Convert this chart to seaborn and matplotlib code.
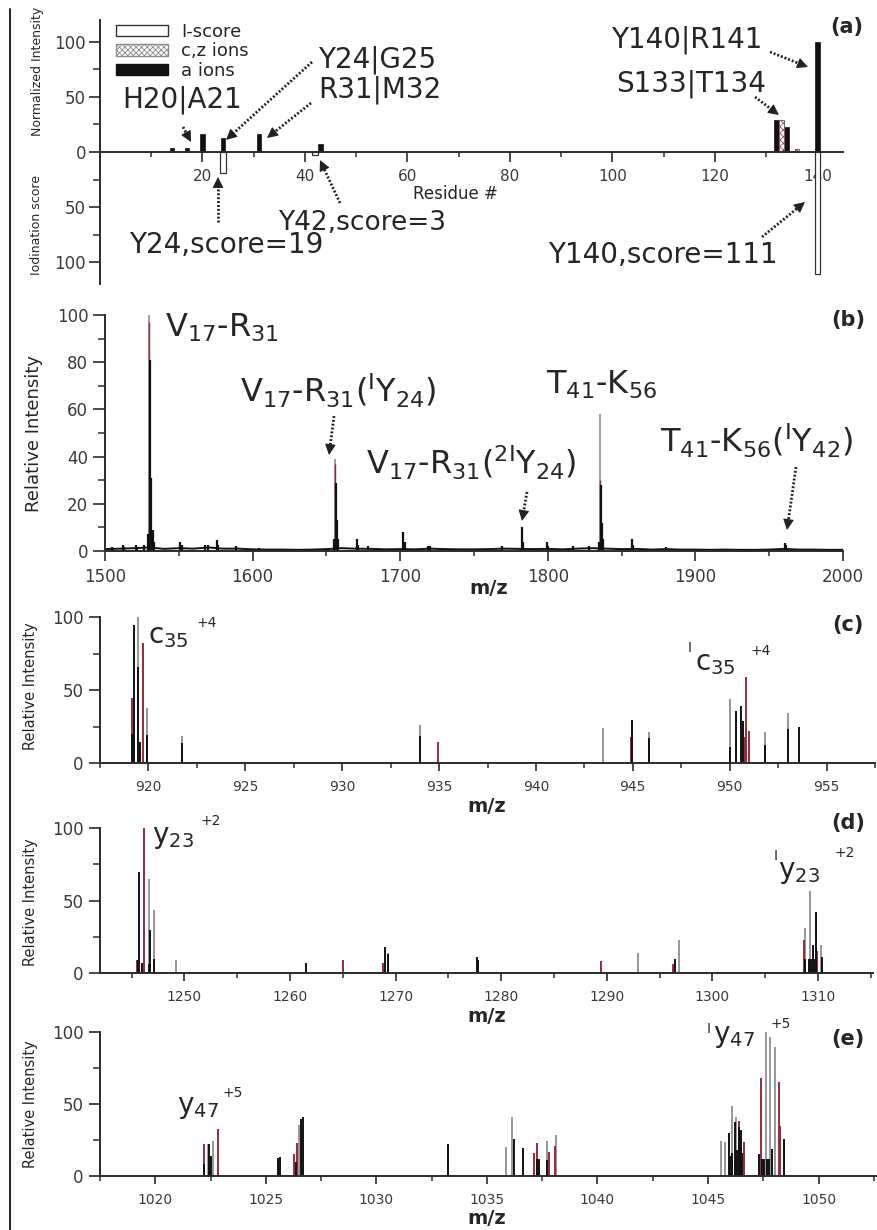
import numpy as np
import matplotlib
matplotlib.use("Agg")
import matplotlib.pyplot as plt
import seaborn as sns
from matplotlib.patches import Patch, FancyArrowPatch
from matplotlib.lines import Line2D
from matplotlib.ticker import MultipleLocator, FixedLocator

# ---------------- data ----------------
# (a) cleavage map
a_ion_res = [14, 17, 20, 24, 31, 43, 132, 134, 140]
a_ion_int = [4, 4, 16, 13, 16, 7, 29, 23, 100]
cz_ion_res = [133, 136]
cz_ion_int = [29, 3]
iscore_res = [24, 42, 140]
iscore_val = [19, 3, 111]
a_yticks = [-100, -50, 0, 50, 100]
a_yticklabels = ["100", "50", "0", "50", "100"]
a_xticks = [20, 40, 60, 80, 100, 120, 140]
legend_labels = ["I-score", "c,z ions", "a ions"]

# (b) MS spectrum
b_base_mz = list(range(1500, 2001, 10))
b_base_int = [0.8, 1.0, 1.2, 1.5, 0.9, 1.2, 1.0, 1.5, 1.0, 1.0,
              0.7, 0.6, 0.6, 0.5, 0.6, 0.8, 1.2, 1.0, 0.9, 0.7,
              0.8, 0.7, 1.0, 0.8, 0.7, 0.7, 0.8, 1.0, 0.9, 0.8,
              0.9, 0.7, 1.0, 1.2, 1.0, 0.8, 0.9, 0.6, 0.8, 0.6,
              0.6, 0.5, 0.6, 0.5, 0.5, 0.6, 0.9, 0.6, 0.6, 0.5, 0.5]
b_black_mz = [1504.5, 1505.5, 1512, 1513, 1521, 1522, 1526.5, 1528.9, 1530.4, 1531.3, 1532.2, 1533.1,
              1551, 1552, 1568, 1570, 1575.7, 1576.7, 1589, 1604, 1654.9, 1656.2, 1657.0, 1657.8,
              1670.5, 1671.5, 1678, 1702, 1703, 1719, 1720, 1768.8, 1782.3, 1783.2, 1799.3, 1800.3,
              1817, 1828, 1834.6, 1835.8, 1836.6, 1837.4, 1856.8, 1857.8, 1880, 1960.7, 1961.7]
b_black_int = [1.8, 1.2, 2.5, 1.8, 2.5, 1.8, 2.5, 7, 81, 31, 9, 4,
               4, 2.5, 2.5, 2.5, 4.5, 2.5, 2, 1.2, 5, 29, 13, 5,
               5, 2.5, 2, 8, 4, 2, 2, 2, 10, 4, 4, 2,
               2, 2, 4, 28, 12, 5, 5, 2.5, 1.5, 3.5, 2.5]
b_grey_mz = [1529.7, 1655.6, 1835.2]
b_grey_int = [100, 39, 58]
b_red_mz = [1530.0, 1655.9, 1835.5]
b_red_int = [97, 37, 30]

# (c) MS/MS c35 +4
c_grey_mz = [919.45, 919.93, 921.73, 934.0, 943.47, 945.86, 950.03, 951.8, 952.99]
c_grey_int = [100, 37.6, 18.5, 26, 23.7, 21.5, 43.6, 21.5, 34.5]
c_red_mz = [919.16, 919.7, 934.97, 944.9, 950.78, 950.84, 951.0]
c_red_int = [44.5, 82, 14.6, 18, 18, 59, 21.9]
c_black_mz = [919.16, 919.24, 919.45, 919.55, 919.93, 921.73, 934.0, 944.97, 945.86, 950.03,
              950.32, 950.58, 950.67, 951.8, 952.99, 953.6]
c_black_int = [20, 94.5, 66, 14.6, 19, 14, 18.5, 29.5, 17, 11, 35.8, 39, 29, 12, 23, 25]

# (d) MS/MS y23 +2
d_grey_mz = [1246.6, 1247.16, 1249.2, 1269.3, 1292.9, 1296.8, 1308.8, 1309.25, 1310.3]
d_grey_int = [65, 43.6, 9, 14, 14, 23, 31, 56.6, 19]
d_red_mz = [1245.5, 1246.17, 1264.98, 1268.8, 1289.4, 1296.3, 1308.7, 1309.85]
d_red_int = [9, 100, 9, 7, 8.5, 6.5, 22.8, 15]
d_black_mz = [1245.6, 1245.67, 1245.98, 1246.6, 1246.75, 1247.16, 1261.5, 1268.96, 1269.3, 1277.7,
              1277.8, 1296.45, 1308.8, 1309.1, 1309.3, 1309.5, 1309.6, 1309.8, 1310.4]
d_black_int = [9, 69.5, 7, 6, 30, 9.5, 6.7, 17.7, 13, 11, 9, 9.7, 10, 10, 10, 19, 10, 42, 11]

# (e) MS/MS y47 +5
e_grey_mz = [1022.37, 1022.61, 1026.5, 1035.87, 1036.14, 1037.72, 1038.14, 1045.57, 1045.75, 1046.1,
             1046.25, 1047.63, 1047.8, 1048.02]
e_grey_int = [22, 24, 35.4, 20, 40.8, 24.5, 28.4, 24.5, 23.3, 48.6, 41, 100, 96.7, 89.7]
e_red_mz = [1022.19, 1022.82, 1026.29, 1026.4, 1037.15, 1037.27, 1037.8, 1038.1, 1046.4, 1046.62,
            1047.38, 1048.2, 1048.25]
e_red_int = [22, 32.4, 15.6, 23, 16.3, 22.6, 16.8, 21, 38.4, 23.8, 68, 65.5, 35]
e_black_mz = [1022.2, 1022.44, 1022.5, 1025.55, 1025.62, 1026.35, 1026.6, 1026.66, 1033.24, 1036.22,
              1036.64, 1037.27, 1037.35, 1037.72, 1045.95, 1046.0, 1046.1, 1046.2, 1046.3, 1046.4,
              1046.45, 1046.5, 1046.55, 1047.3, 1047.45, 1047.55, 1047.65, 1047.75, 1047.9, 1048.42]
e_black_int = [8, 22, 14, 12.8, 13.5, 10, 39.4, 41, 22, 25.4, 19.3, 12, 12, 11, 29.7, 14, 16, 37.7,
               18, 34, 20, 32, 16, 15.6, 12, 12, 12, 12, 19, 26]

# ---------------- style ----------------
sns.set_theme(style="ticks")
plt.rcParams["font.family"] = ["DejaVu Sans"]
plt.rcParams["mathtext.default"] = "regular"
plt.rcParams["hatch.linewidth"] = 0.6

W, H = 877, 1230
SPINE = "#2b2b2b"
TXT = "#262626"
LBL = "#3a3a3a"
BLACK = "#111111"
GREY = "#858585"
RED = "#9a2a3a"

fig = plt.figure(figsize=(W / 100, H / 100), dpi=100)
fig.patch.set_facecolor("white")


def rect(l, t, r, b):
    return [l / W, 1 - b / H, (r - l) / W, (b - t) / H]


def ftext(x, y, s, size, **kw):
    kw.setdefault("color", TXT)
    fig.text(x / W, 1 - y / H, s, fontsize=size, **kw)


def arrow(x0, y0, x1, y1):
    # dotted shaft + small solid head
    dx, dy = x1 - x0, y1 - y0
    n = np.hypot(dx, dy)
    ux, uy = dx / n, dy / n
    hx, hy = x1 - 7 * ux, y1 - 7 * uy
    fig.add_artist(Line2D([x0 / W, hx / W], [1 - y0 / H, 1 - hy / H], transform=fig.transFigure,
                          color="#222222", lw=2.0, linestyle=(0, (0.7, 0.7)),
                          dash_capstyle="butt"))
    fig.add_artist(FancyArrowPatch(((hx - 2 * ux) / W, 1 - (hy - 2 * uy) / H), (x1 / W, 1 - y1 / H),
                                   transform=fig.transFigure,
                                   arrowstyle="-|>,head_length=0.6,head_width=0.3",
                                   mutation_scale=11, lw=0.8, color="#222222",
                                   shrinkA=0, shrinkB=0))


def style_axes(ax, xsize, ysize, xmaj, ymaj, xpad=5, ypad=3):
    for s in ("top", "right"):
        ax.spines[s].set_visible(False)
    for s in ("left", "bottom"):
        ax.spines[s].set_color(SPINE)
        ax.spines[s].set_linewidth(1.4)
    ax.set_facecolor("white")
    ax.tick_params(axis="x", which="major", direction="out", length=xmaj, width=1.2,
                   color=SPINE, labelcolor=LBL, labelsize=xsize, pad=xpad)
    ax.tick_params(axis="x", which="minor", direction="out", length=xmaj * 0.55, width=1.1, color=SPINE)
    ax.tick_params(axis="y", which="major", direction="out", length=ymaj, width=1.2,
                   color=SPINE, labelcolor=LBL, labelsize=ysize, pad=ypad)
    ax.tick_params(axis="y", which="minor", direction="out", length=ymaj * 0.6, width=1.1, color=SPINE)
    ax.set_xlabel("")
    ax.set_ylabel("")
    ax.grid(False)


def sticks(ax, mz, inten, color, lw):
    ax.vlines(mz, 0, inten, colors=color, linewidth=lw, clip_on=False)


# ---------------- (a) ----------------
ax_a = fig.add_axes(rect(100, 20, 843, 284))
ax_a.bar(iscore_res, -np.array(iscore_val), width=1.1, color="white", edgecolor="#333333", linewidth=0.9)
ax_a.bar(a_ion_res, a_ion_int, width=0.85, color=BLACK, edgecolor=BLACK, linewidth=0.5)
ax_a.bar(cz_ion_res, cz_ion_int, width=0.9, color="white", edgecolor="#8a5a60", hatch="xxxxx", linewidth=0.8)
ax_a.set_xlim(0, 145)
ax_a.set_ylim(-120, 120)
ax_a.spines["bottom"].set_position(("data", 0))
style_axes(ax_a, 11, 12, 7, 8, xpad=5, ypad=2)
ax_a.xaxis.set_major_locator(FixedLocator(a_xticks))
ax_a.xaxis.set_minor_locator(MultipleLocator(10))
ax_a.set_yticks(a_yticks)
ax_a.set_yticklabels(a_yticklabels)
ax_a.yaxis.set_minor_locator(MultipleLocator(25))

handles = [Patch(facecolor="white", edgecolor="#333333", linewidth=1.0),
           Patch(facecolor="white", edgecolor="#8a8a8a", hatch="xxxxxx", linewidth=1.0),
           Patch(facecolor=BLACK, edgecolor=BLACK)]
fig.legend(handles, legend_labels, loc="upper left", bbox_to_anchor=(116 / W, 1 - 23 / H),
           frameon=False, fontsize=13, handlelength=2.9, handleheight=0.6, handletextpad=0.7,
           labelspacing=0.08, borderpad=0, borderaxespad=0, labelcolor=TXT)

ftext(455, 194, "Residue #", 12, ha="center", va="center")
ftext(37, 71, "Normalized Intensity", 9, rotation=90, ha="center", va="center")
ftext(37, 225, "Iodination score", 9, rotation=90, ha="center", va="center")
ftext(847, 27, "(a)", 15, ha="center", va="center", fontweight="bold")

for s, cx, by, sz in [("H20|A21", 182, 107, 20), ("Y24|G25", 377, 67, 20), ("R31|M32", 380, 97, 20),
                      ("Y42,score=3", 362, 230, 19), ("Y24,score=19", 226, 253, 20),
                      ("Y140|R141", 687, 47, 20), ("S133|T134", 691, 92, 20),
                      ("Y140,score=111", 663, 263, 20)]:
    ftext(cx, by, s, sz, ha="center", va="baseline")

arrow(183, 127, 191, 142)
arrow(312, 62, 226, 140)
arrow(311, 103, 267, 138)
arrow(340, 203, 320, 160)
arrow(218, 222, 218, 177)
arrow(770, 52, 808, 67)
arrow(755, 97, 779, 115)
arrow(762, 237, 805, 202)

# ---------------- (b) ----------------
ax_b = fig.add_axes(rect(105, 315, 843, 551))
sns.lineplot(x=b_base_mz, y=b_base_int, ax=ax_b, color=BLACK, linewidth=1.4, legend=False)
sticks(ax_b, b_grey_mz, b_grey_int, GREY, 1.1)
sticks(ax_b, b_red_mz, b_red_int, RED, 1.0)
sticks(ax_b, b_black_mz, b_black_int, BLACK, 1.6)
ax_b.set_xlim(1500, 2000)
ax_b.set_ylim(0, 100)
style_axes(ax_b, 12, 12, 7, 9, xpad=5, ypad=3)
ax_b.xaxis.set_major_locator(MultipleLocator(100))
ax_b.xaxis.set_minor_locator(MultipleLocator(50))
ax_b.yaxis.set_major_locator(MultipleLocator(20))
ax_b.yaxis.set_minor_locator(MultipleLocator(10))
ftext(34, 433, "Relative Intensity", 13, rotation=90, ha="center", va="center")
ftext(489, 589, "m/z", 14, ha="center", va="center", fontweight="bold")
ftext(848, 320, "(b)", 15, ha="center", va="center", fontweight="bold")

for s, cx, by in [(r"V$_{17}$-R$_{31}$", 222, 337),
                  (r"V$_{17}$-R$_{31}$($^{I}$Y$_{24}$)", 338, 403),
                  (r"V$_{17}$-R$_{31}$($^{2I}$Y$_{24}$)", 471, 475),
                  (r"T$_{41}$-K$_{56}$", 602, 394),
                  (r"T$_{41}$-K$_{56}$($^{I}$Y$_{42}$)", 756, 453)]:
    ftext(cx, by, s, 23, ha="center", va="baseline")
arrow(334, 416, 329, 455)
arrow(527, 492, 522, 521)
arrow(796, 467, 787, 530)

# ---------------- (c), (d), (e) ----------------
panels = [
    ("c", rect(100, 617, 875, 763), (917.5, 957.5), 5, 2.5,
     (c_grey_mz, c_grey_int), (c_red_mz, c_red_int), (c_black_mz, c_black_int), 686, 625, 807),
    ("d", rect(100, 828, 873, 973), (1242, 1315.2), 10, 5,
     (d_grey_mz, d_grey_int), (d_red_mz, d_red_int), (d_black_mz, d_black_int), 902, 823, 1017),
    ("e", rect(100, 1032, 876, 1176), (1017.5, 1052.6), 5, 2.5,
     (e_grey_mz, e_grey_int), (e_red_mz, e_red_int), (e_black_mz, e_black_int), 1104, 1039, 1218),
]
for name, r, xl, maj, mnr, g, rd, bk, ylab_y, tag_y, mz_y in panels:
    ax = fig.add_axes(r)
    sticks(ax, g[0], g[1], GREY, 1.2)
    sticks(ax, rd[0], rd[1], RED, 1.4)
    sticks(ax, bk[0], bk[1], BLACK, 1.4)
    ax.set_xlim(*xl)
    ax.set_ylim(0, 100)
    style_axes(ax, 10, 12, 6, 8, xpad=6, ypad=4)
    ax.xaxis.set_major_locator(MultipleLocator(maj))
    ax.xaxis.set_minor_locator(MultipleLocator(mnr))
    ax.yaxis.set_major_locator(MultipleLocator(50))
    ax.yaxis.set_minor_locator(MultipleLocator(25))
    ftext(31, ylab_y, "Relative Intensity", 10.5, rotation=90, ha="center", va="center")
    ftext(487, mz_y, "m/z", 14, ha="center", va="center", fontweight="bold")
    ftext(848, tag_y, "(%s)" % name, 15, ha="center", va="center", fontweight="bold")

# ion labels (main + subscript, charge superscript, iodination prefix)
for s, x, by in [(r"c$_{35}$", 148, 643), (r"c$_{35}$", 695, 670),
                 (r"y$_{23}$", 152, 843), (r"y$_{23}$", 778, 878),
                 (r"y$_{47}$", 177, 1113), (r"y$_{47}$", 713, 1042)]:
    ftext(x, by, s, 20, ha="left", va="baseline")
for s, x, by in [("+4", 197, 627), ("+4", 750, 655), ("+2", 200, 825), ("+2", 835, 857),
                 ("+5", 223, 1097), ("+5", 770, 1028)]:
    ftext(x, by, s, 10, ha="left", va="baseline")
for x, by in [(688, 652), (774, 860), (707, 1033)]:
    ftext(x, by, "I", 10, ha="left", va="baseline")

# left border line of the figure
fig.add_artist(Line2D([10 / W, 10 / W], [0, 1 - 9 / H], color="#111111", lw=1.3,
                      transform=fig.transFigure))

fig.savefig("out.png", dpi=100, facecolor="white")
